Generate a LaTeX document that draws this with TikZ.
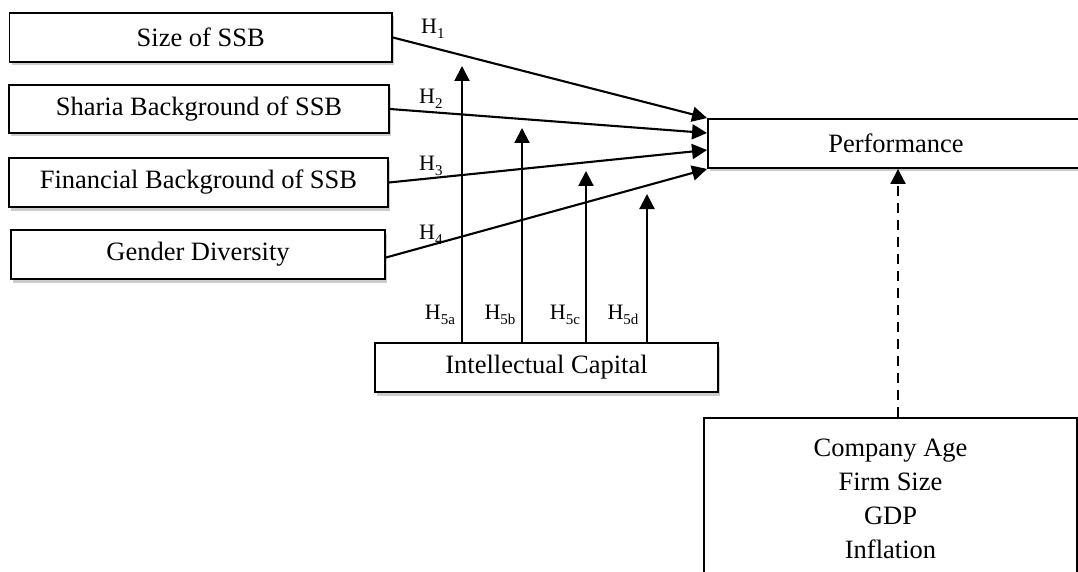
\documentclass[tikz,border=0pt]{standalone}
\usepackage{fontspec}
\setmainfont{Liberation Serif}
\usetikzlibrary{arrows.meta,shadows}
\newcommand{\Hl}[1]{H\raisebox{-5pt}{\fontsize{15}{15}\selectfont #1}}
\begin{document}
\begin{tikzpicture}[x=1pt,y=-1pt,
  box/.style={draw,line width=1.9pt,fill=white,inner sep=0pt,
    font=\fontsize{26.5}{34}\selectfont,align=center,
    drop shadow={shadow xshift=2pt,shadow yshift=-3.5pt,opacity=0.2,fill=black}},
  arr/.style={line width=2.1pt,-{Triangle[length=15pt,width=15pt]}},
  darr/.style={arr,dash pattern=on 10pt off 7pt},
  hlab/.style={inner sep=0pt,anchor=base west,font=\fontsize{22}{22}\selectfont},
  hlabc/.style={inner sep=0pt,anchor=base,font=\fontsize{22}{22}\selectfont}]
\useasboundingbox (0,0) rectangle (1078,572);
\clip (0,0) rectangle (1078,572);
\fill[white] (0,0) rectangle (1078,572);

\node[box,minimum width=382.5pt,minimum height=49pt] (size) at (200.75,37.5) {Size of SSB};
\node[box,minimum width=380pt,minimum height=48pt] (sharia) at (199,109) {Sharia Background of SSB};
\node[box,minimum width=379pt,minimum height=49pt] (fin) at (198.5,182.5) {Financial Background of SSB};
\node[box,minimum width=374pt,minimum height=49pt] (gender) at (198,254.5) {\raisebox{-3pt}{Gender Diversity}};
\node[box,minimum width=376pt,minimum height=49pt] (perf) at (896,143.5) {Performance};
\node[box,minimum width=343pt,minimum height=49pt] (ic) at (546.5,367.5) {Intellectual Capital};
\node[box,minimum width=373pt,minimum height=162pt] (ctrl) at (890.5,499) {Company Age\\Firm Size\\GDP\\Inflation};

\draw[arr] (size.east) -- (perf.north west);
\draw[arr] (sharia.east) -- ([yshift=10.5pt]perf.west);
\draw[arr] (fin.east) -- ([yshift=-6.5pt]perf.west);
\draw[arr] ([yshift=-3pt]gender.east) -- (perf.south west);

\coordinate (t5a) at (462,66);
\coordinate (t5b) at (522,128);
\coordinate (t5c) at (586,171);
\coordinate (t5d) at (647,194);
\draw[arr] (ic.north -| t5a) -- (t5a);
\draw[arr] (ic.north -| t5b) -- (t5b);
\draw[arr] (ic.north -| t5c) -- (t5c);
\draw[arr] (ic.north -| t5d) -- (t5d);

\coordinate (dx) at (898,300);
\draw[darr] (ctrl.north -| dx) -- (perf.south -| dx);

\node[hlab] (h1) at (421,34) {\Hl{1}};
\node[hlab] (h2) at (419,104) {\Hl{2}};
\node[hlab] (h3) at (419,171) {\Hl{3}};
\node[hlab] (h4) at (419,239) {\Hl{4}};
\node[hlabc] (h5a) at (440,319) {\Hl{5a}};
\node[hlabc] (h5b) at (500,319) {\Hl{5b}};
\node[hlabc] (h5c) at (565,319) {\Hl{5c}};
\node[hlabc] (h5d) at (623,319) {\Hl{5d}};
\end{tikzpicture}
\end{document}
